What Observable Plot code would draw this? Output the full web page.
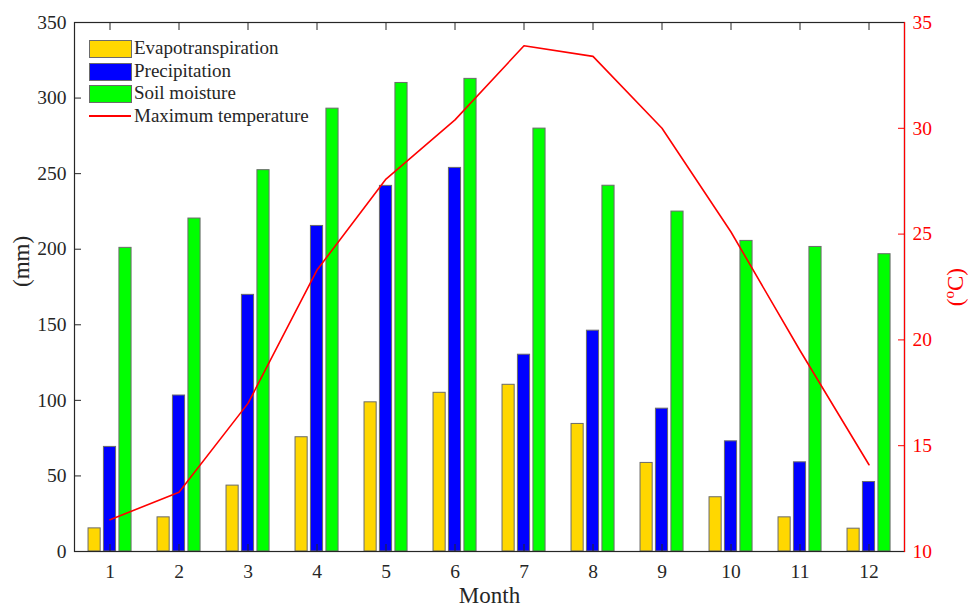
<!DOCTYPE html>
<html>
<head>
<meta charset="utf-8">
<script src="https://cdn.jsdelivr.net/npm/d3@7"></script>
<script src="https://cdn.jsdelivr.net/npm/@observablehq/plot@0.6"></script>
<style>
  html, body { margin: 0; padding: 0; background: #fff; }
  #wrap { position: relative; width: 968px; height: 607px; overflow: hidden; font-family: "Liberation Serif", "Times New Roman", serif; }
  #wrap svg { position: absolute; left: 0; top: 0; }
  .lg-sw { position: absolute; width: 41px; height: 16px; border: 1px solid #6b6b6b; }
  .lg-tx { position: absolute; font-size: 19px; line-height: 19px; color: #262626; white-space: nowrap; }
  .lg-ln { position: absolute; width: 42px; height: 2px; background: #ff0000; }
  #rlab { position: absolute; left: 945px; top: 268px; width: 22px; writing-mode: vertical-rl; transform: rotate(180deg); font-size: 23px; line-height: 22px; color: #ff0000; white-space: nowrap; }
  #rlab sup { font-size: 15px; vertical-align: 0.45em; line-height: 0; }
</style>
</head>
<body>
<div id="wrap"></div>
<script>
// ---- data ----
const months = [1, 2, 3, 4, 5, 6, 7, 8, 9, 10, 11, 12];
const evapotranspiration = [15.3, 22.6, 43.6, 75.6, 98.7, 105.0, 110.3, 84.4, 58.6, 35.9, 22.6, 15.1];
const precipitation = [69.2, 103.2, 169.8, 215.4, 241.9, 253.8, 130.2, 146.1, 94.5, 72.9, 59.0, 46.0];
const soilMoisture = [200.9, 220.3, 252.3, 293.0, 310.0, 312.7, 279.8, 242.0, 224.9, 205.5, 201.5, 196.7];
const maxTemperature = [11.5, 12.8, 17.0, 23.3, 27.6, 30.4, 33.9, 33.4, 30.0, 25.1, 19.5, 14.1];
const mmTicks = [0, 50, 100, 150, 200, 250, 300, 350];
const tempTicks = [10, 15, 20, 25, 30, 35];
const seriesNames = ["Evapotranspiration", "Precipitation", "Soil moisture"];
const seriesColors = ["#ffd700", "#0000ff", "#00ff00"];

// ---- build tables ----
const mmDomain = [0, 350];
const tempDomain = [10, 35];
const tempToMM = d3.scaleLinear().domain(tempDomain).range(mmDomain);

const seriesValues = [evapotranspiration, precipitation, soilMoisture];
const bars = [];
seriesValues.forEach((vals, s) => {
  months.forEach((m, i) => bars.push({month: m, series: seriesNames[s], value: vals[i], s}));
});
const temps = months.map((m, i) => ({month: m, t: maxTemperature[i]}));

const W = 968, H = 607;
const mL = 74, mR = 64, mT = 22, mB = 56;
const bandW = (W - mL - mR) / months.length;
const barW = 12.3;
const inset = (bandW - barW) / 2;
const offsets = [-15.4, 0, 15.5];
const edge = "#6b6b6b";
const axisColor = "#262626";

const barMarks = seriesNames.map((name, s) =>
  Plot.barY(bars.filter(d => d.s === s), {
    x: "month", y: "value", fill: seriesColors[s], stroke: edge, strokeWidth: 1,
    insetLeft: inset, insetRight: inset, dx: offsets[s]
  })
);

const chart = Plot.plot({
  width: W, height: H,
  marginLeft: mL, marginRight: mR, marginTop: mT, marginBottom: mB,
  style: {fontFamily: "'Liberation Serif', 'Times New Roman', serif", fontSize: "19.5px", background: "#fff", color: axisColor},
  x: {type: "band", domain: months, padding: 0, label: null},
  y: {domain: mmDomain, label: null},
  marks: [
    ...barMarks,
    Plot.line(temps, {x: "month", y: d => tempToMM(d.t), stroke: "#ff0000", strokeWidth: 1.6}),
    Plot.axisY(mmTicks, {anchor: "left", tickSize: -7, tickPadding: 15, label: null, color: axisColor, fontSize: 19.5}),
    Plot.axisY(tempTicks.map(t => tempToMM(t)), {anchor: "right", tickSize: -7, tickPadding: 15, label: null,
      tickFormat: v => String(Math.round(tempToMM.invert(v))), color: "#ff0000", fontSize: 19.5}),
    Plot.axisX({anchor: "bottom", tickSize: -7, tickPadding: 20, label: null, color: axisColor, fontSize: 19.5}),
    Plot.axisX({anchor: "top", tickSize: -7, tickFormat: () => "", label: null, color: axisColor}),
    Plot.frame({stroke: axisColor, strokeWidth: 1.2}),
    Plot.frame({anchor: "right", stroke: "#ff0000", strokeWidth: 1.2}),
    Plot.text(["Month"], {frameAnchor: "bottom", dy: 51, fontSize: 23, fill: axisColor}),
    Plot.text(["(mm)"], {frameAnchor: "left", rotate: -90, dx: -53, fontSize: 23, fill: axisColor})
  ]
});

const wrap = document.getElementById("wrap");
wrap.appendChild(chart);

// ---- legend (HTML overlay) ----
const legendRows = [
  {label: seriesNames[0], color: seriesColors[0], kind: "box"},
  {label: seriesNames[1], color: seriesColors[1], kind: "box"},
  {label: seriesNames[2], color: seriesColors[2], kind: "box"},
  {label: "Maximum temperature", color: "#ff0000", kind: "line"}
];
const rowTop = [38, 60.5, 83, 105.5];
legendRows.forEach((r, i) => {
  if (r.kind === "box") {
    const sw = document.createElement("div");
    sw.className = "lg-sw";
    sw.style.left = "89px";
    sw.style.top = (rowTop[i] + 2) + "px";
    sw.style.background = r.color;
    wrap.appendChild(sw);
  } else {
    const ln = document.createElement("div");
    ln.className = "lg-ln";
    ln.style.left = "89px";
    ln.style.top = (rowTop[i] + 9) + "px";
    ln.style.background = r.color;
    wrap.appendChild(ln);
  }
  const tx = document.createElement("div");
  tx.className = "lg-tx";
  tx.style.left = "134px";
  tx.style.top = rowTop[i] + "px";
  tx.textContent = r.label;
  wrap.appendChild(tx);
});

// ---- right axis title ----
const rl = document.createElement("div");
rl.id = "rlab";
rl.innerHTML = "(<sup>o</sup>C)";
wrap.appendChild(rl);
</script>
</body>
</html>
